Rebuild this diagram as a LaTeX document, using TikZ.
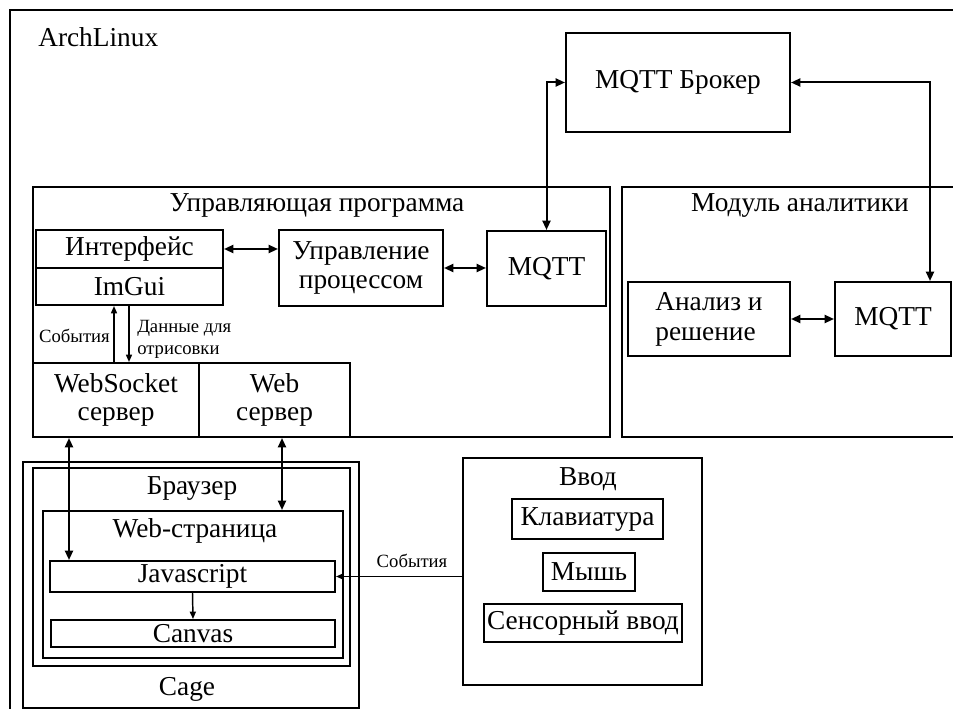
\documentclass[tikz,border=0pt]{standalone}
\usepackage{fontspec}
\setmainfont{Liberation Serif}
\usetikzlibrary{arrows.meta}
\newcommand\mainsize{\fontsize{20.5}{21.5}\selectfont}
\newcommand\notesize{\fontsize{14}{16.5}\selectfont}
\begin{document}
\begin{tikzpicture}[x=0.75pt,y=-0.75pt,
  box/.style={draw, line width=1.5pt, inner sep=0pt, font=\mainsize, align=center},
  sz/.style 2 args={minimum width=#1*0.75pt, minimum height=#2*0.75pt},
  title/.style={font=\mainsize, inner sep=0pt, anchor=base},
  note/.style={font=\notesize, inner sep=0pt},
  link/.style={line width=1.5pt, {Triangle[length=7pt,width=6pt]}-{Triangle[length=7pt,width=6pt]}},
  flow/.style={line width=1.1pt, -{Triangle[length=5.5pt,width=4.5pt]}},
]
\useasboundingbox (0,0) rectangle (953,709);
\clip (0,0) rectangle (953,709);

% host system frame
\node[box, sz={990}{750}] (arch) at (505,385) {};
\node[font=\mainsize, inner sep=0pt, anchor=base west] (archtitle) at (38,47) {ArchLinux};

% broker
\node[box, sz={224}{99}] (broker) at (678,82.5) {MQTT Брокер};

% control program
\node[box, sz={577}{250}] (ctrl) at (321.5,312) {};
\node[title] (ctrltitle) at (317,212) {Управляющая программа};
\node[box, sz={187}{38}] (iface) at (129.5,249) {Интерфейс};
\node[box, sz={187}{37}] (imgui) at (129.5,286.5) {ImGui};
\node[box, sz={164}{76}] (proc) at (361,268) {Управление\\процессом};
\node[box, sz={119}{75}] (mqttc) at (546.5,268.5) {MQTT};
\node[box, sz={166}{74}] (ws) at (116,400) {WebSocket\\сервер};
\node[box, sz={151}{74}] (web) at (274.5,400) {Web\\сервер};

% analytics module
\node[box, sz={378}{250}] (analytics) at (811,312) {};
\node[title] (antitle) at (800,212) {Модуль аналитики};
\node[box, sz={162}{74}, align=left, font=\fontsize{20.5}{22.5}\selectfont] (anal) at (709,319) {Анализ и\\решение};
\node[box, sz={116}{74}] (mqtta) at (893,319) {MQTT};

% cage / browser
\node[box, sz={336}{246}] (cage) at (191,585) {};
\node[title] (cagetitle) at (187,695) {Cage};
\node[box, sz={317}{198}] (browser) at (191.5,567) {};
\node[title] (browsertitle) at (192,494) {Браузер};
\node[box, sz={300}{147}] (page) at (193,584.5) {};
\node[title] (pagetitle) at (195,537) {Web-страница};
\node[box, sz={285}{31}] (js) at (192.5,576.5) {Javascript};
\node[box, sz={284}{27}] (canvas) at (193,633.5) {Canvas};

% input devices
\node[box, sz={239}{227}] (input) at (582.5,571.5) {};
\node[title] (inputtitle) at (588,485) {Ввод};
\node[box, sz={151}{40}] (kbd) at (587.5,519) {Клавиатура};
\node[box, sz={92}{38}] (mouse) at (589,572) {Мышь};
\node[box, sz={198}{38}] (touch) at (583,623) {Сенсорный ввод};

% x positions of vertical connectors
\coordinate (evx) at (114,0);
\coordinate (dtx) at (129,0);
\coordinate (wsx) at (69,0);
\coordinate (wbx) at (282,0);
\coordinate (brx) at (930,0);

% connectors
\draw[link] (mqttc.north) |- (broker.west);
\draw[link] (broker.east) -| (brx |- mqtta.north);
\draw[link] (iface.east) -- (iface.east -| proc.west);
\draw[link] (proc.east) -- (proc.east -| mqttc.west);
\draw[link] (anal.east) -- (anal.east -| mqtta.west);
\draw[flow] (evx |- ws.north) -- (evx |- imgui.south);
\draw[flow] (dtx |- imgui.south) -- (dtx |- ws.north);
\draw[link] (wsx |- ws.south) -- (wsx |- js.north);
\draw[link] (wbx |- web.south) -- (wbx |- page.north);
\draw[flow] (js.south) -- (canvas.north);
\draw[flow] (input.west |- js.east) -- (js.east);

% connector labels
\node[note, anchor=base east] (evlabel) at (110,342) {События};
\node[note, anchor=west, align=left] (dtlabel) at (137,339) {Данные для\\отрисовки};
\node[note, anchor=base] (inlabel) at (412,567) {События};
\end{tikzpicture}
\end{document}
